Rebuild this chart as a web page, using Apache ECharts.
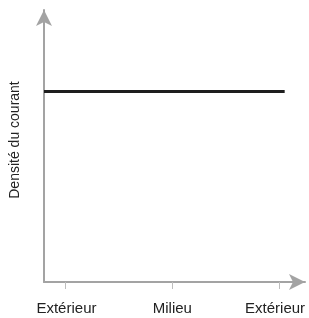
<!DOCTYPE html>
<html>
<head>
<meta charset="utf-8">
<script src="https://cdn.jsdelivr.net/npm/echarts@6/dist/echarts.min.js"></script>
<style>
  html, body { margin: 0; padding: 0; background: #fff; }
  #chart { width: 309px; height: 318px; }
</style>
</head>
<body>
<div id="chart"></div>
<script>
  // positions along the conductor section
  var positions = [0, 1, 2];
  var labelPositions = [0.01, 1, 1.96];
  var positionLabels = ['Extérieur', 'Milieu', 'Extérieur'];
  // uniform current density (DC case)
  var densityX = [-0.2, 2.05];
  var densityY = [0.7, 0.7];

  var axisGray = '#a3a3a3';
  var chart = echarts.init(document.getElementById('chart'));

  chart.setOption({
    animation: false,
    textStyle: { fontFamily: 'Liberation Sans, Arial, sans-serif' },
    grid: { left: 41, right: 4, top: 10, bottom: 36 },
    xAxis: {
      type: 'value',
      min: -0.2,
      max: 2.24,
      axisLine: {
        onZero: false,
        lineStyle: { color: axisGray, width: 2 },
        symbol: ['none', 'arrow'],
        symbolSize: [12, 16]
      },
      axisTick: {
        show: true,
        length: 7,
        customValues: positions,
        lineStyle: { color: '#bdbdbd', width: 1 }
      },
      axisLabel: {
        customValues: labelPositions,
        formatter: function (v) { return positionLabels[Math.round(v)]; },
        margin: 19,
        fontSize: 15,
        color: '#222'
      },
      splitLine: { show: false }
    },
    yAxis: {
      type: 'value',
      min: 0,
      max: 1,
      name: 'Densité du courant',
      nameLocation: 'middle',
      nameRotate: 90,
      nameGap: 22,
      nameTextStyle: { fontSize: 14, color: '#222', padding: [0, 0, 0, 12] },
      axisLine: {
        show: true,
        onZero: false,
        lineStyle: { color: axisGray, width: 2 },
        symbol: ['none', 'arrow'],
        symbolSize: [12, 16]
      },
      axisTick: { show: false },
      axisLabel: { show: false },
      splitLine: { show: false }
    },
    series: [{
      type: 'line',
      data: densityX.map(function (x, i) { return [x, densityY[i]]; }),
      symbol: 'none',
      lineStyle: { color: '#1e1e1e', width: 3 }
    }]
  });
</script>
</body>
</html>
